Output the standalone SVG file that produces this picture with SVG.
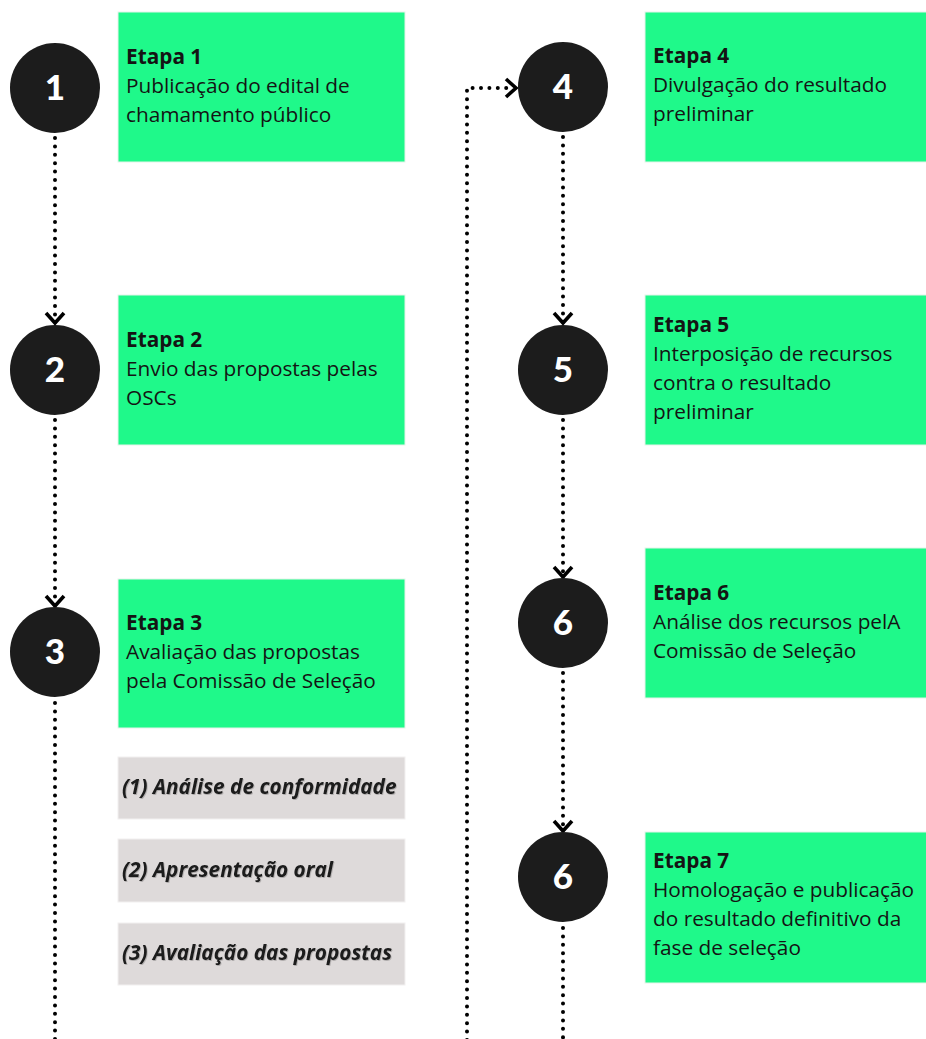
<svg xmlns="http://www.w3.org/2000/svg" width="926" height="1039" viewBox="0 0 926 1039">
<defs>
<filter id="sh" x="-5%" y="-20%" width="110%" height="150%">
<feDropShadow dx="0.8" dy="1" stdDeviation="0.6" flood-color="#000" flood-opacity="0.22"/>
</filter>
</defs>
<style>
.box{fill:#1ff98a;stroke:#e6f3ea;stroke-width:1}
.gbox{fill:#dedada;stroke:#f2f0f0;stroke-width:1}
.circ{fill:#1c1c1c}
.num{font-family:Lato,"Liberation Sans",sans-serif;font-weight:900;font-size:35px;fill:#fff;text-anchor:middle}
.t{font-family:"Open Sans","Liberation Sans",sans-serif;font-size:20.8px;fill:#141414}
.b{font-weight:700}
.gi{font-family:"Open Sans","Liberation Sans",sans-serif;font-size:20.8px;font-weight:700;font-style:italic;fill:#1a1a1a}
.dot{fill:none;stroke:#000;stroke-width:4;stroke-linecap:round;stroke-dasharray:0 8.4}
.chev{fill:none;stroke:#000;stroke-width:3.6}
</style>
<rect width="926" height="1039" fill="#fff"/>
<g id="connectors">
<line class="dot" x1="55" y1="138" x2="55" y2="322"/>
<line class="dot" x1="55" y1="420" x2="55" y2="604"/>
<line class="dot" x1="55" y1="703" x2="55" y2="1040"/>
<line class="dot" x1="563" y1="137" x2="563" y2="322"/>
<line class="dot" x1="563" y1="420" x2="563" y2="576"/>
<line class="dot" x1="563" y1="673" x2="563" y2="830"/>
<line class="dot" x1="563" y1="928" x2="563" y2="1040"/>
<path class="dot" d="M467,1040 L467,88 L512,88"/>
<path class="chev" d="M46,313 L55,323 L64,313"/>
<path class="chev" d="M46,596 L55,606 L64,596"/>
<path class="chev" d="M554,313 L563,323 L572,313"/>
<path class="chev" d="M554,567 L563,577 L572,567"/>
<path class="chev" d="M554,821 L563,831 L572,821"/>
<path class="chev" d="M506,79 L516,88 L506,97"/>
</g>
<g id="step1">
<circle class="circ" cx="55" cy="88" r="45"/>
<text class="num" x="55" y="100">1</text>
<rect class="box" x="118" y="12" width="287" height="150"/>
<text class="t b" x="126" y="64">Etapa 1</text>
<text class="t" x="126" y="93">Publicação do edital de</text>
<text class="t" x="126" y="122">chamamento público</text>
</g>
<g id="step2">
<circle class="circ" cx="55" cy="370" r="45"/>
<text class="num" x="55" y="382">2</text>
<rect class="box" x="118" y="295" width="287" height="150"/>
<text class="t b" x="126" y="347">Etapa 2</text>
<text class="t" x="126" y="376">Envio das propostas pelas</text>
<text class="t" x="126" y="405">OSCs</text>
</g>
<g id="step3">
<circle class="circ" cx="55" cy="652" r="45"/>
<text class="num" x="55" y="664">3</text>
<rect class="box" x="118" y="579" width="287" height="149"/>
<text class="t b" x="126" y="630">Etapa 3</text>
<text class="t" x="126" y="659">Avaliação das propostas</text>
<text class="t" x="126" y="688">pela Comissão de Seleção</text>
</g>
<g id="sub1">
<rect class="gbox" x="118" y="757" width="287" height="62"/>
<text class="gi" x="122" y="794" filter="url(#sh)">(1) Análise de conformidade</text>
</g>
<g id="sub2">
<rect class="gbox" x="118" y="839" width="287" height="63"/>
<text class="gi" x="122" y="877" filter="url(#sh)">(2) Apresentação oral</text>
</g>
<g id="sub3">
<rect class="gbox" x="118" y="923" width="287" height="62"/>
<text class="gi" x="122" y="960" filter="url(#sh)">(3) Avaliação das propostas</text>
</g>
<g id="step4">
<circle class="circ" cx="563" cy="87" r="45"/>
<text class="num" x="563" y="99">4</text>
<rect class="box" x="645" y="12" width="282" height="150"/>
<text class="t b" x="653" y="63">Etapa 4</text>
<text class="t" x="653" y="92">Divulgação do resultado</text>
<text class="t" x="653" y="121">preliminar</text>
</g>
<g id="step5">
<circle class="circ" cx="563" cy="370" r="45"/>
<text class="num" x="563" y="382">5</text>
<rect class="box" x="645" y="295" width="282" height="150"/>
<text class="t b" x="653" y="332">Etapa 5</text>
<text class="t" x="653" y="361">Interposição de recursos</text>
<text class="t" x="653" y="390">contra o resultado</text>
<text class="t" x="653" y="419">preliminar</text>
</g>
<g id="step6">
<circle class="circ" cx="563" cy="623" r="45"/>
<text class="num" x="563" y="635">6</text>
<rect class="box" x="645" y="548" width="282" height="150"/>
<text class="t b" x="653" y="600">Etapa 6</text>
<text class="t" x="653" y="629">Análise dos recursos pelA</text>
<text class="t" x="653" y="658">Comissão de Seleção</text>
</g>
<g id="step7">
<circle class="circ" cx="563" cy="877" r="45"/>
<text class="num" x="563" y="889">6</text>
<rect class="box" x="645" y="832" width="282" height="151"/>
<text class="t b" x="653" y="868">Etapa 7</text>
<text class="t" x="653" y="897">Homologação e publicação</text>
<text class="t" x="653" y="926">do resultado definitivo da</text>
<text class="t" x="653" y="955">fase de seleção</text>
</g>
</svg>
